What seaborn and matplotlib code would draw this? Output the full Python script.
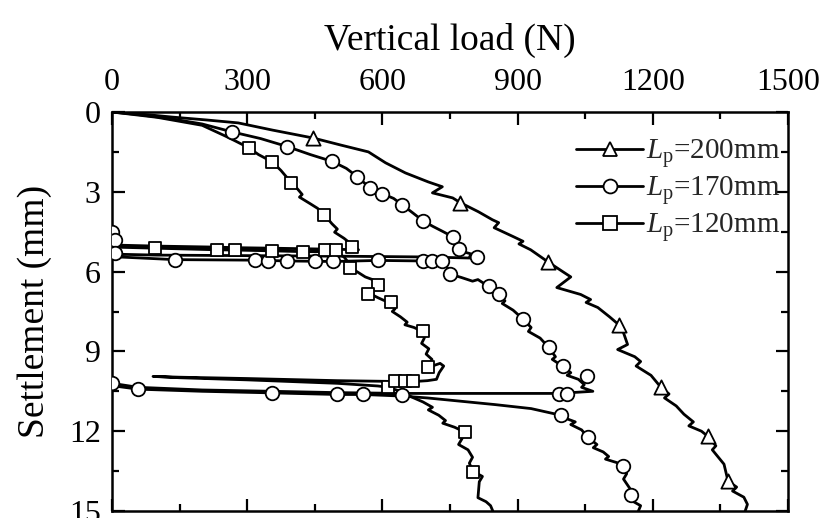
import matplotlib
matplotlib.use("Agg")
import matplotlib.pyplot as plt
from matplotlib.lines import Line2D
from matplotlib.ticker import MultipleLocator
import pandas as pd
import seaborn as sns

sns.set_theme(style="ticks")
plt.rcParams["font.family"] = ["Liberation Serif", "DejaVu Serif"]
plt.rcParams["mathtext.fontset"] = "custom"
plt.rcParams["mathtext.rm"] = "Liberation Serif"
plt.rcParams["mathtext.it"] = "Liberation Serif:italic"

# ---- L_p = 200 mm : single loading curve ----
tri_load = [0, 60, 133, 210, 280, 356, 447, 507, 569, 607,
            651, 702, 733, 711, 756, 773, 813, 844, 858, 848,
            891, 912, 903, 929, 967, 1000, 1018, 987, 1040, 1062,
            1052, 1078, 1104, 1124, 1135, 1144, 1122, 1160, 1173, 1163,
            1196, 1218, 1236, 1226, 1252, 1269, 1290, 1280, 1308, 1322,
            1340, 1332, 1358, 1367, 1386, 1377, 1402, 1410, 1405]
tri_settle = [0, 0.07, 0.19, 0.3, 0.41, 0.68, 0.98, 1.24, 1.5, 1.91,
              2.29, 2.63, 2.81, 3.04, 3.23, 3.41, 3.75, 4.05, 4.16, 4.35,
              4.69, 4.86, 4.96, 5.18, 5.63, 6.0, 6.2, 6.6, 6.86, 7.05,
              7.16, 7.35, 7.7, 7.99, 8.3, 8.74, 8.93, 9.2, 9.38, 9.55,
              9.9, 10.35, 10.6, 10.75, 11.05, 11.36, 11.65, 11.8, 12.0, 12.19,
              12.55, 12.7, 13.24, 13.88, 14.1, 14.25, 14.48, 14.75, 15.0]
tri_mk_load = [447, 773, 967, 1124, 1218, 1322, 1367]
tri_mk_settle = [0.98, 3.41, 5.63, 7.99, 10.35, 12.19, 13.88]

# ---- L_p = 170 mm : load / unload / reload / unload / reload ----
cir_load = (
    [0, 60, 130, 200, 267, 330, 389, 440, 489, 520,
     544, 573, 600, 625, 644, 668, 689, 712, 735, 756,
     769, 785, 800, 794, 818]
    + [700, 500, 300, 100, 20, 4, 0]
    + [4, 8, 15, 140, 318, 389, 491, 591, 689, 733,
       742, 751, 775, 800, 812, 836, 858, 872, 866, 890,
       913, 930, 924, 950, 969, 984, 977, 1000, 1018, 1010,
       1035, 1048, 1042, 1067]
    + [1009, 991, 800, 650, 500, 356, 200, 58, 0]
    + [5, 58, 200, 356, 500, 558, 644, 700, 760, 850,
       930, 996, 1012, 1028, 1018, 1042, 1056, 1076, 1068, 1090,
       1102, 1095, 1120, 1133, 1142, 1135, 1151, 1162, 1152, 1173,
       1168]
)
cir_settle = (
    [0, 0.1, 0.25, 0.45, 0.75, 1.0, 1.3, 1.6, 1.86, 2.12,
     2.43, 2.86, 3.07, 3.25, 3.49, 3.8, 4.08, 4.3, 4.5, 4.69,
     5.1, 5.28, 5.35, 5.42, 5.5]
    + [5.45, 5.42, 5.4, 5.38, 5.35, 5.0, 4.55]
    + [4.8, 5.3, 5.45, 5.55, 5.57, 5.6, 5.62, 5.58, 5.6, 5.63,
       5.8, 6.1, 6.22, 6.36, 6.3, 6.56, 6.86, 7.1, 7.2, 7.45,
       7.8, 8.1, 8.25, 8.5, 8.85, 9.2, 9.3, 9.56, 9.8, 9.9,
       10.05, 10.25, 10.35, 10.5]
    + [10.56, 10.58, 10.58, 10.58, 10.55, 10.5, 10.45, 10.35, 10.2]
    + [10.3, 10.42, 10.5, 10.56, 10.62, 10.62, 10.68, 10.75, 10.85, 11.0,
       11.15, 11.4, 11.55, 11.65, 11.75, 11.95, 12.23, 12.5, 12.62, 12.78,
       12.95, 13.05, 13.18, 13.3, 13.6, 13.8, 14.2, 14.45, 14.6, 14.8,
       15.0]
)
cir_mk_load = [267, 389, 489, 544, 573, 600, 644, 689, 756, 769,
               811, 0, 7, 7, 140, 318, 347, 389, 451, 491,
               591, 689, 711, 733, 751, 836, 858, 913, 969, 1000,
               1053, 991, 1009, 0, 58, 356, 500, 558, 644, 996,
               1056, 1133, 1151]
cir_mk_settle = [0.75, 1.3, 1.86, 2.43, 2.86, 3.07, 3.49, 4.08, 4.69, 5.15,
                 5.44, 4.5, 4.8, 5.3, 5.55, 5.55, 5.6, 5.6, 5.6, 5.6,
                 5.55, 5.6, 5.6, 5.6, 6.1, 6.56, 6.86, 7.8, 8.85, 9.56,
                 9.94, 10.6, 10.6, 10.2, 10.42, 10.55, 10.6, 10.6, 10.65, 11.4,
                 12.23, 13.3, 14.4]

# ---- L_p = 120 mm : load / unload / reload / unload / reload ----
sq_load = (
    [0, 100, 200, 251, 275, 304, 325, 356, 375, 398,
     412, 422, 416, 440, 456, 471, 488, 500, 494, 515,
     533, 541, 547]
    + [496, 424, 356, 273, 233, 96, 0]
    + [5, 96, 233, 273, 356, 424, 473, 500, 515, 524,
       529, 548, 562, 578, 591, 583, 569, 590, 603, 618,
       628, 622, 640, 655, 650, 670, 689, 693, 687, 703,
       697, 710, 702, 728, 736, 726, 720]
    + [700, 673, 651, 629, 500, 300, 150, 91]
    + [150, 300, 500, 590, 613, 640, 667, 690, 711, 702,
       725, 740, 734, 760, 784, 776, 769, 790, 800, 793,
       800, 822, 815, 812, 830, 840, 845]
)
sq_settle = (
    [0, 0.2, 0.5, 0.9, 1.1, 1.35, 1.6, 1.88, 2.2, 2.66,
     2.9, 3.1, 3.2, 3.45, 3.62, 3.86, 4.2, 4.4, 4.52, 4.75,
     5.0, 5.1, 5.18]
    + [5.16, 5.14, 5.12, 5.1, 5.08, 5.04, 5.0]
    + [5.08, 5.12, 5.18, 5.19, 5.22, 5.25, 5.25, 5.3, 5.45, 5.65,
       5.85, 6.05, 6.2, 6.3, 6.45, 6.6, 6.8, 6.98, 7.08, 7.16,
       7.4, 7.5, 7.7, 7.9, 8.0, 8.1, 8.25, 8.5, 8.7, 8.9,
       9.1, 9.3, 9.6, 9.45, 9.55, 9.8, 10.05]
    + [10.1, 10.13, 10.13, 10.13, 10.1, 10.02, 9.97, 9.94]
    + [9.99, 10.07, 10.2, 10.3, 10.35, 10.5, 10.73, 10.9, 11.1, 11.2,
       11.4, 11.6, 11.7, 11.85, 12.04, 12.3, 12.5, 12.7, 12.98, 13.2,
       13.5, 13.7, 13.9, 14.5, 14.65, 14.8, 15.0]
)
sq_mk_load = [304, 356, 398, 471, 533, 96, 233, 273, 356, 424,
              473, 496, 529, 591, 569, 618, 689, 702, 613, 629,
              651, 669, 784, 800]
sq_mk_settle = [1.35, 1.88, 2.66, 3.86, 5.06, 5.1, 5.18, 5.18, 5.21, 5.25,
                5.18, 5.18, 5.85, 6.49, 6.86, 7.16, 8.25, 9.6, 10.35, 10.13,
                10.13, 10.13, 12.04, 13.54]

labels = [r"$L_\mathrm{p}$=200mm", r"$L_\mathrm{p}$=170mm", r"$L_\mathrm{p}$=120mm"]
markers = ["^", "o", "s"]
marker_area = [105, 95, 80]

series = [
    (tri_load, tri_settle, tri_mk_load, tri_mk_settle),
    (cir_load, cir_settle, cir_mk_load, cir_mk_settle),
    (sq_load, sq_settle, sq_mk_load, sq_mk_settle),
]

fig = plt.figure(figsize=(8.24, 5.18), dpi=100)
ax = fig.add_axes([112 / 824, 7 / 518, 676 / 824, 399 / 518])

LW = 2.0
for (lx, ly, mx, my), mk, area in zip(series, markers, marker_area):
    curve = pd.DataFrame({"load": lx, "settlement": ly})
    pts = pd.DataFrame({"load": mx, "settlement": my})
    sns.lineplot(data=curve, x="load", y="settlement", sort=False, estimator=None,
                 color="black", lw=LW, ax=ax, zorder=2)
    sns.scatterplot(data=pts, x="load", y="settlement", marker=mk, s=area,
                    facecolor="white", edgecolor="black", linewidth=1.3,
                    ax=ax, zorder=3)

ax.set_xlim(0, 1500)
ax.set_ylim(15, 0)
ax.xaxis.set_major_locator(MultipleLocator(300))
ax.xaxis.set_minor_locator(MultipleLocator(150))
ax.yaxis.set_major_locator(MultipleLocator(3))
ax.yaxis.set_minor_locator(MultipleLocator(1.5))
ax.xaxis.tick_top()
ax.xaxis.set_label_position("top")
ax.tick_params(which="both", direction="in", top=True, bottom=True,
               left=True, right=True, labeltop=True, labelbottom=False,
               color="black", width=1.6, labelsize=23, labelcolor="black")
ax.tick_params(which="major", length=9)
ax.tick_params(which="minor", length=5)
ax.tick_params(axis="x", which="major", pad=11)
ax.tick_params(axis="y", which="major", pad=8)
for sp in ax.spines.values():
    sp.set_visible(True)
    sp.set_linewidth(1.8)
    sp.set_color("black")

ax.set_xlabel("Vertical load (N)", fontsize=27, labelpad=13, color="black")
ax.set_ylabel("Settlement (mm)", fontsize=27, labelpad=12, color="black")

handles = [Line2D([], [], color="black", lw=LW, marker=m, ms=10,
                  mfc="white", mec="black", mew=1.3) for m in markers]
ax.legend(handles, labels, loc="upper right", frameon=False, fontsize=21,
          handlelength=2.3, handletextpad=0.1, labelspacing=0.13,
          borderaxespad=0.2, bbox_to_anchor=(1.015, 0.98))

fig.savefig("out.png", dpi=100)
